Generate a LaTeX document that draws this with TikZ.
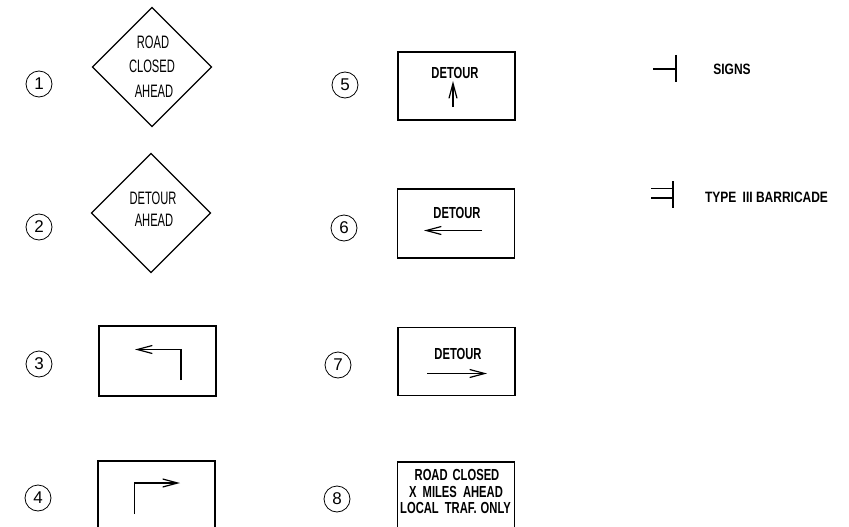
\documentclass[tikz,border=0pt]{standalone}
\usepackage{fontspec}
\setmainfont{Liberation Sans}
\newfontfamily\thinsign[FakeStretch=0.62]{Liberation Sans}
\newfontfamily\boldsign[FakeStretch=0.70]{Liberation Sans Bold}
\newfontfamily\legendsign[FakeStretch=0.80]{Liberation Sans Bold}
\usetikzlibrary{shapes.geometric,arrows.meta}
\tikzset{
  signline/.style={line width=1.1pt,black},
  diamondsign/.style={diamond,draw,signline,minimum width=119pt,minimum height=119pt,inner sep=0pt,outer sep=0pt},
  rectsign/.style={rectangle,draw,signline,minimum width=117pt,inner sep=0pt,outer sep=0pt},
  numcircle/.style={circle,draw,line width=0.8pt,minimum size=26pt,inner sep=0pt,font=\fontsize{17}{17}\selectfont},
  thintext/.style={inner sep=0pt,font=\thinsign\fontsize{18}{18}\selectfont},
  boldtext/.style={inner sep=0pt,font=\boldsign\fontsize{16}{16}\selectfont},
  smallbold/.style={inner sep=0pt,font=\legendsign\fontsize{15}{15}\selectfont},
  arrowline/.style={signline,-{Straight Barb[length=15pt,width=8pt,line width=1.2pt]}},
  thickline/.style={line width=1.6pt,black}
}
\begin{document}
\begin{tikzpicture}[x=1pt,y=-1pt]
\useasboundingbox (0,0) rectangle (849,527);
\clip (0,0) rectangle (849,527);
% left column
\node[numcircle] (n1) at (39,84) {1};
\node[numcircle] (n2) at (39,227) {2};
\node[numcircle] (n3) at (39,364) {3};
\node[numcircle] (n4) at (38,498) {4};
\node[diamondsign] (d1) at (152,67) {};
\node[thintext] (d1a) at (153,42) {ROAD};
\node[thintext] (d1b) at (152,66) {CLOSED};
\node[thintext] (d1c) at (154,91) {AHEAD};
\node[diamondsign] (d2) at (151,213) {};
\node[thintext] (d2a) at (153,198) {DETOUR};
\node[thintext] (d2b) at (154,220) {AHEAD};
\node[rectsign,minimum height=70pt] (r3) at (157.5,361) {};
\coordinate (a3s) at (181,380);
\coordinate (a3c) at (181,349.5);
\coordinate (a3e) at (135,349.5);
\draw[arrowline] (a3s) -- (a3c) -- (a3e);
\node[rectsign,minimum height=110pt] (r4) at (156.5,516) {};
\coordinate (a4s) at (134.5,514);
\coordinate (a4c) at (134.5,483);
\coordinate (a4e) at (180,483);
\draw[arrowline] (a4s) -- (a4c) -- (a4e);
% middle column
\node[numcircle] (n5) at (345,85) {5};
\node[numcircle] (n6) at (344,228) {6};
\node[numcircle] (n7) at (338,365) {7};
\node[numcircle] (n8) at (337,499) {8};
\node[rectsign,minimum height=68pt] (r5) at (456.5,86) {};
\node[boldtext] (t5) at (455,73) {DETOUR};
\coordinate (a5s) at (453,107);
\coordinate (a5e) at (453,81);
\draw[arrowline] (a5s) -- (a5e);
\node[rectsign,minimum height=69pt] (r6) at (456,223.5) {};
\node[boldtext] (t6) at (457,213) {DETOUR};
\coordinate (a6s) at (482,230.5);
\coordinate (a6e) at (424,230.5);
\draw[arrowline] (a6s) -- (a6e);
\node[rectsign,minimum height=68pt] (r7) at (456.5,361.5) {};
\node[boldtext] (t7) at (458,354) {DETOUR};
\coordinate (a7s) at (427,373.5);
\coordinate (a7e) at (487,373.5);
\draw[arrowline] (a7s) -- (a7e);
\node[rectsign,minimum height=110pt] (r8) at (456,517) {};
\node[boldtext] (t8a) at (457,475) {ROAD\hspace{5pt}CLOSED};
\node[boldtext] (t8b) at (456,492) {X\hspace{3pt} MILES\hspace{3pt} AHEAD};
\node[boldtext] (t8c) at (455.5,508) {LOCAL\hspace{3pt} TRAF.\hspace{1pt} ONLY};
% legend
\coordinate (s0) at (653,69);
\coordinate (s1) at (676,69);
\coordinate (s2) at (676,55);
\coordinate (s3) at (676,82);
\draw[thickline] (s0) -- (s1);
\draw[thickline] (s2) -- (s3);
\node[smallbold] (l1) at (732,69) {SIGNS};
\coordinate (b0) at (651,188.5);
\coordinate (b1) at (673,188.5);
\coordinate (b2) at (651,198);
\coordinate (b3) at (673,198);
\coordinate (b4) at (673,181);
\coordinate (b5) at (673,208);
\draw[thickline] (b0) -- (b1);
\draw[thickline] (b2) -- (b3);
\draw[thickline] (b4) -- (b5);
\node[smallbold] (l2) at (766.5,197) {TYPE\hspace{3pt} III BARRICADE};
\end{tikzpicture}
\end{document}
